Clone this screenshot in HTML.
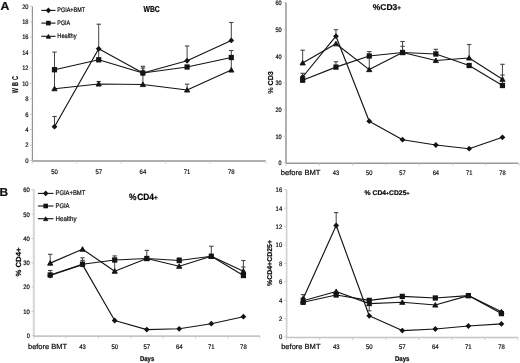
<!DOCTYPE html>
<html><head><meta charset="utf-8"><style>
html,body{margin:0;padding:0;background:#fff;}
body{width:520px;height:363px;overflow:hidden;}
svg{display:block;filter:blur(0.25px);}
text{font-family:"Liberation Sans",sans-serif;text-rendering:geometricPrecision;stroke:#222;stroke-width:0.22px;}
</style></head><body>
<svg width="520" height="363" viewBox="0 0 520 363">
<rect width="520" height="363" fill="#fff"/>
<line x1="32.40" y1="6.50" x2="32.40" y2="161.00" stroke="#939393" stroke-width="1.2"/>
<line x1="32.40" y1="161.00" x2="265.70" y2="161.00" stroke="#b0b0b0" stroke-width="1.8"/>
<line x1="29.90" y1="160.50" x2="32.40" y2="160.50" stroke="#c4c4c4" stroke-width="0.8"/>
<line x1="29.90" y1="145.08" x2="32.40" y2="145.08" stroke="#c4c4c4" stroke-width="0.8"/>
<line x1="29.90" y1="129.66" x2="32.40" y2="129.66" stroke="#c4c4c4" stroke-width="0.8"/>
<line x1="29.90" y1="114.24" x2="32.40" y2="114.24" stroke="#c4c4c4" stroke-width="0.8"/>
<line x1="29.90" y1="98.82" x2="32.40" y2="98.82" stroke="#c4c4c4" stroke-width="0.8"/>
<line x1="29.90" y1="83.40" x2="32.40" y2="83.40" stroke="#c4c4c4" stroke-width="0.8"/>
<line x1="29.90" y1="67.98" x2="32.40" y2="67.98" stroke="#c4c4c4" stroke-width="0.8"/>
<line x1="29.90" y1="52.56" x2="32.40" y2="52.56" stroke="#c4c4c4" stroke-width="0.8"/>
<line x1="29.90" y1="37.14" x2="32.40" y2="37.14" stroke="#c4c4c4" stroke-width="0.8"/>
<line x1="29.90" y1="21.72" x2="32.40" y2="21.72" stroke="#c4c4c4" stroke-width="0.8"/>
<line x1="29.90" y1="6.30" x2="32.40" y2="6.30" stroke="#c4c4c4" stroke-width="0.8"/>
<line x1="32.40" y1="161.00" x2="32.40" y2="163.50" stroke="#c4c4c4" stroke-width="0.8"/>
<line x1="76.80" y1="161.00" x2="76.80" y2="163.50" stroke="#c4c4c4" stroke-width="0.8"/>
<line x1="121.20" y1="161.00" x2="121.20" y2="163.50" stroke="#c4c4c4" stroke-width="0.8"/>
<line x1="165.60" y1="161.00" x2="165.60" y2="163.50" stroke="#c4c4c4" stroke-width="0.8"/>
<line x1="210.00" y1="161.00" x2="210.00" y2="163.50" stroke="#c4c4c4" stroke-width="0.8"/>
<line x1="265.70" y1="161.00" x2="265.70" y2="163.50" stroke="#c4c4c4" stroke-width="0.8"/>
<text x="28.50" y="162.85" font-size="6.6" text-anchor="end" textLength="3.3" lengthAdjust="spacingAndGlyphs">0</text>
<text x="28.50" y="147.43" font-size="6.6" text-anchor="end" textLength="3.3" lengthAdjust="spacingAndGlyphs">2</text>
<text x="28.50" y="132.01" font-size="6.6" text-anchor="end" textLength="3.3" lengthAdjust="spacingAndGlyphs">4</text>
<text x="28.50" y="116.59" font-size="6.6" text-anchor="end" textLength="3.3" lengthAdjust="spacingAndGlyphs">6</text>
<text x="28.50" y="101.17" font-size="6.6" text-anchor="end" textLength="3.3" lengthAdjust="spacingAndGlyphs">8</text>
<text x="28.50" y="85.75" font-size="6.6" text-anchor="end" textLength="6.3" lengthAdjust="spacingAndGlyphs">10</text>
<text x="28.50" y="70.33" font-size="6.6" text-anchor="end" textLength="6.3" lengthAdjust="spacingAndGlyphs">12</text>
<text x="28.50" y="54.91" font-size="6.6" text-anchor="end" textLength="6.3" lengthAdjust="spacingAndGlyphs">14</text>
<text x="28.50" y="39.49" font-size="6.6" text-anchor="end" textLength="6.3" lengthAdjust="spacingAndGlyphs">16</text>
<text x="28.50" y="24.07" font-size="6.6" text-anchor="end" textLength="6.3" lengthAdjust="spacingAndGlyphs">18</text>
<text x="28.50" y="8.65" font-size="6.6" text-anchor="end" textLength="6.3" lengthAdjust="spacingAndGlyphs">20</text>
<text x="54.50" y="173.50" font-size="6.6" text-anchor="middle" textLength="6.6" lengthAdjust="spacingAndGlyphs">50</text>
<text x="98.70" y="173.50" font-size="6.6" text-anchor="middle" textLength="6.6" lengthAdjust="spacingAndGlyphs">57</text>
<text x="142.90" y="173.50" font-size="6.6" text-anchor="middle" textLength="6.6" lengthAdjust="spacingAndGlyphs">64</text>
<text x="187.10" y="173.50" font-size="6.6" text-anchor="middle" textLength="6.6" lengthAdjust="spacingAndGlyphs">71</text>
<text x="231.30" y="173.50" font-size="6.6" text-anchor="middle" textLength="6.6" lengthAdjust="spacingAndGlyphs">78</text>
<text x="143.50" y="12.20" font-size="8.6" font-weight="bold" textLength="16.2" lengthAdjust="spacingAndGlyphs">WBC</text>
<text x="0" y="0" font-size="8.4" font-weight="bold" textLength="26.2" lengthAdjust="spacing" transform="translate(17.8 93.2) rotate(-90) scale(0.66 1)">WBC</text>
<text x="0.50" y="9.80" font-size="11.6" font-weight="bold" textLength="8.9" lengthAdjust="spacingAndGlyphs" fill="#111">A</text>
<line x1="41.30" y1="10.40" x2="55.50" y2="10.40" stroke="#141414" stroke-width="1.1"/>
<path d="M48.40 7.60L51.20 10.40L48.40 13.20L45.60 10.40Z" fill="#141414"/>
<text x="57.30" y="12.38" font-size="6.6" textLength="27.8" lengthAdjust="spacingAndGlyphs">PGIA+BMT</text>
<line x1="41.30" y1="23.10" x2="55.50" y2="23.10" stroke="#141414" stroke-width="1.1"/>
<rect x="46.10" y="20.80" width="4.6" height="4.6" fill="#141414"/>
<text x="57.30" y="25.08" font-size="6.6" textLength="12.9" lengthAdjust="spacingAndGlyphs">PGIA</text>
<line x1="41.30" y1="36.30" x2="55.50" y2="36.30" stroke="#141414" stroke-width="1.1"/>
<path d="M48.40 34.41L50.50 38.21L46.30 38.21Z" fill="#141414" stroke="#141414" stroke-width="0.9" stroke-linejoin="round"/>
<text x="57.30" y="38.28" font-size="6.6" textLength="19.3" lengthAdjust="spacingAndGlyphs">Healthy</text>
<line x1="54.50" y1="69.70" x2="54.50" y2="52.10" stroke="#444" stroke-width="1.0"/>
<line x1="52.30" y1="52.10" x2="56.70" y2="52.10" stroke="#444" stroke-width="1.1"/>
<line x1="54.50" y1="126.70" x2="54.50" y2="116.50" stroke="#444" stroke-width="1.0"/>
<line x1="52.30" y1="116.50" x2="56.70" y2="116.50" stroke="#444" stroke-width="1.1"/>
<line x1="98.70" y1="48.80" x2="98.70" y2="24.20" stroke="#444" stroke-width="1.0"/>
<line x1="96.50" y1="24.20" x2="100.90" y2="24.20" stroke="#444" stroke-width="1.1"/>
<line x1="98.70" y1="84.00" x2="98.70" y2="81.50" stroke="#444" stroke-width="1.0"/>
<line x1="96.50" y1="81.50" x2="100.90" y2="81.50" stroke="#444" stroke-width="1.1"/>
<line x1="142.90" y1="73.00" x2="142.90" y2="66.30" stroke="#444" stroke-width="1.0"/>
<line x1="140.70" y1="66.30" x2="145.10" y2="66.30" stroke="#444" stroke-width="1.1"/>
<line x1="142.90" y1="73.00" x2="142.90" y2="68.00" stroke="#444" stroke-width="1.0"/>
<line x1="140.70" y1="68.00" x2="145.10" y2="68.00" stroke="#444" stroke-width="1.1"/>
<line x1="187.10" y1="60.75" x2="187.10" y2="46.00" stroke="#444" stroke-width="1.0"/>
<line x1="184.90" y1="46.00" x2="189.30" y2="46.00" stroke="#444" stroke-width="1.1"/>
<line x1="187.10" y1="90.00" x2="187.10" y2="84.20" stroke="#444" stroke-width="1.0"/>
<line x1="184.90" y1="84.20" x2="189.30" y2="84.20" stroke="#444" stroke-width="1.1"/>
<line x1="231.30" y1="40.40" x2="231.30" y2="22.50" stroke="#444" stroke-width="1.0"/>
<line x1="229.10" y1="22.50" x2="233.50" y2="22.50" stroke="#444" stroke-width="1.1"/>
<line x1="231.30" y1="57.50" x2="231.30" y2="50.50" stroke="#444" stroke-width="1.0"/>
<line x1="229.10" y1="50.50" x2="233.50" y2="50.50" stroke="#444" stroke-width="1.1"/>
<line x1="54.50" y1="69.70" x2="54.50" y2="88.00" stroke="#444" stroke-width="1.0"/>
<line x1="231.30" y1="57.50" x2="231.30" y2="70.00" stroke="#444" stroke-width="1.0"/>
<line x1="98.70" y1="48.80" x2="98.70" y2="59.80" stroke="#444" stroke-width="1.0"/>
<line x1="142.90" y1="73.00" x2="142.90" y2="84.50" stroke="#444" stroke-width="1.0"/>
<polyline points="54.50,69.70 98.70,59.80 142.90,73.00 187.10,67.00 231.30,57.50" fill="none" stroke="#141414" stroke-width="1.15" stroke-linejoin="round"/>
<rect x="51.90" y="67.05" width="5.2" height="5.3" fill="#141414"/>
<rect x="96.10" y="57.15" width="5.2" height="5.3" fill="#141414"/>
<rect x="140.30" y="70.35" width="5.2" height="5.3" fill="#141414"/>
<rect x="184.50" y="64.35" width="5.2" height="5.3" fill="#141414"/>
<rect x="228.70" y="54.85" width="5.2" height="5.3" fill="#141414"/>
<polyline points="54.50,88.70 98.70,84.00 142.90,84.50 187.10,90.00 231.30,70.00" fill="none" stroke="#141414" stroke-width="1.15" stroke-linejoin="round"/>
<path d="M54.50 86.17L57.10 90.77L51.90 90.77Z" fill="#141414" stroke="#141414" stroke-width="0.9" stroke-linejoin="round"/>
<path d="M98.70 81.47L101.30 86.07L96.10 86.07Z" fill="#141414" stroke="#141414" stroke-width="0.9" stroke-linejoin="round"/>
<path d="M142.90 81.97L145.50 86.57L140.30 86.57Z" fill="#141414" stroke="#141414" stroke-width="0.9" stroke-linejoin="round"/>
<path d="M187.10 87.47L189.70 92.07L184.50 92.07Z" fill="#141414" stroke="#141414" stroke-width="0.9" stroke-linejoin="round"/>
<path d="M231.30 67.47L233.90 72.07L228.70 72.07Z" fill="#141414" stroke="#141414" stroke-width="0.9" stroke-linejoin="round"/>
<polyline points="54.50,126.70 98.70,48.80 142.90,73.00 187.10,60.75 231.30,40.40" fill="none" stroke="#141414" stroke-width="1.15" stroke-linejoin="round"/>
<path d="M54.50 123.80L57.40 126.70L54.50 129.60L51.60 126.70Z" fill="#141414"/>
<path d="M98.70 45.90L101.60 48.80L98.70 51.70L95.80 48.80Z" fill="#141414"/>
<path d="M142.90 70.10L145.80 73.00L142.90 75.90L140.00 73.00Z" fill="#141414"/>
<path d="M187.10 57.85L190.00 60.75L187.10 63.65L184.20 60.75Z" fill="#141414"/>
<path d="M231.30 37.50L234.20 40.40L231.30 43.30L228.40 40.40Z" fill="#141414"/>
<line x1="286.00" y1="2.50" x2="286.00" y2="163.30" stroke="#a4a4a4" stroke-width="1.7"/>
<line x1="286.00" y1="163.30" x2="518.60" y2="163.30" stroke="#9a9a9a" stroke-width="1.5"/>
<line x1="283.50" y1="163.00" x2="286.00" y2="163.00" stroke="#c4c4c4" stroke-width="0.8"/>
<line x1="283.50" y1="136.30" x2="286.00" y2="136.30" stroke="#c4c4c4" stroke-width="0.8"/>
<line x1="283.50" y1="109.60" x2="286.00" y2="109.60" stroke="#c4c4c4" stroke-width="0.8"/>
<line x1="283.50" y1="82.90" x2="286.00" y2="82.90" stroke="#c4c4c4" stroke-width="0.8"/>
<line x1="283.50" y1="56.20" x2="286.00" y2="56.20" stroke="#c4c4c4" stroke-width="0.8"/>
<line x1="283.50" y1="29.50" x2="286.00" y2="29.50" stroke="#c4c4c4" stroke-width="0.8"/>
<line x1="283.50" y1="2.80" x2="286.00" y2="2.80" stroke="#c4c4c4" stroke-width="0.8"/>
<line x1="286.00" y1="163.30" x2="286.00" y2="165.80" stroke="#c4c4c4" stroke-width="0.8"/>
<line x1="319.30" y1="163.30" x2="319.30" y2="165.80" stroke="#c4c4c4" stroke-width="0.8"/>
<line x1="352.60" y1="163.30" x2="352.60" y2="165.80" stroke="#c4c4c4" stroke-width="0.8"/>
<line x1="385.90" y1="163.30" x2="385.90" y2="165.80" stroke="#c4c4c4" stroke-width="0.8"/>
<line x1="419.20" y1="163.30" x2="419.20" y2="165.80" stroke="#c4c4c4" stroke-width="0.8"/>
<line x1="452.50" y1="163.30" x2="452.50" y2="165.80" stroke="#c4c4c4" stroke-width="0.8"/>
<line x1="485.80" y1="163.30" x2="485.80" y2="165.80" stroke="#c4c4c4" stroke-width="0.8"/>
<line x1="519.10" y1="163.30" x2="519.10" y2="165.80" stroke="#c4c4c4" stroke-width="0.8"/>
<text x="281.60" y="165.30" font-size="6.4" text-anchor="end" textLength="3.0" lengthAdjust="spacingAndGlyphs">0</text>
<text x="281.60" y="138.60" font-size="6.4" text-anchor="end" textLength="6.2" lengthAdjust="spacingAndGlyphs">10</text>
<text x="281.60" y="111.90" font-size="6.4" text-anchor="end" textLength="6.2" lengthAdjust="spacingAndGlyphs">20</text>
<text x="281.60" y="85.20" font-size="6.4" text-anchor="end" textLength="6.2" lengthAdjust="spacingAndGlyphs">30</text>
<text x="281.60" y="58.50" font-size="6.4" text-anchor="end" textLength="6.2" lengthAdjust="spacingAndGlyphs">40</text>
<text x="281.60" y="31.80" font-size="6.4" text-anchor="end" textLength="6.2" lengthAdjust="spacingAndGlyphs">50</text>
<text x="281.60" y="5.10" font-size="6.4" text-anchor="end" textLength="6.2" lengthAdjust="spacingAndGlyphs">60</text>
<text x="280.80" y="175.00" font-size="7.4" textLength="39.6" lengthAdjust="spacingAndGlyphs">before BMT</text>
<text x="335.95" y="174.60" font-size="6.6" text-anchor="middle" textLength="6.4" lengthAdjust="spacingAndGlyphs">43</text>
<text x="369.25" y="174.60" font-size="6.6" text-anchor="middle" textLength="6.4" lengthAdjust="spacingAndGlyphs">50</text>
<text x="402.55" y="174.60" font-size="6.6" text-anchor="middle" textLength="6.4" lengthAdjust="spacingAndGlyphs">57</text>
<text x="435.85" y="174.60" font-size="6.6" text-anchor="middle" textLength="6.4" lengthAdjust="spacingAndGlyphs">64</text>
<text x="469.15" y="174.60" font-size="6.6" text-anchor="middle" textLength="6.4" lengthAdjust="spacingAndGlyphs">71</text>
<text x="502.45" y="174.60" font-size="6.6" text-anchor="middle" textLength="6.4" lengthAdjust="spacingAndGlyphs">78</text>
<text x="372.70" y="10.20" font-size="8.4" font-weight="bold" textLength="28.3" lengthAdjust="spacingAndGlyphs">%CD3<tspan font-size="75%">+</tspan></text>
<text x="273.4" y="82.5" font-size="7.2" text-anchor="middle" textLength="22.6" lengthAdjust="spacingAndGlyphs" transform="rotate(-90 273.4 82.5)">% <tspan font-weight="bold">CD3</tspan></text>
<line x1="302.65" y1="62.90" x2="302.65" y2="50.20" stroke="#444" stroke-width="1.0"/>
<line x1="300.45" y1="50.20" x2="304.85" y2="50.20" stroke="#444" stroke-width="1.1"/>
<line x1="302.65" y1="77.00" x2="302.65" y2="73.30" stroke="#444" stroke-width="1.0"/>
<line x1="300.45" y1="73.30" x2="304.85" y2="73.30" stroke="#444" stroke-width="1.1"/>
<line x1="335.95" y1="36.20" x2="335.95" y2="29.70" stroke="#444" stroke-width="1.0"/>
<line x1="333.75" y1="29.70" x2="338.15" y2="29.70" stroke="#444" stroke-width="1.1"/>
<line x1="335.95" y1="67.10" x2="335.95" y2="61.80" stroke="#444" stroke-width="1.0"/>
<line x1="333.75" y1="61.80" x2="338.15" y2="61.80" stroke="#444" stroke-width="1.1"/>
<line x1="369.25" y1="56.00" x2="369.25" y2="51.60" stroke="#444" stroke-width="1.0"/>
<line x1="367.05" y1="51.60" x2="371.45" y2="51.60" stroke="#444" stroke-width="1.1"/>
<line x1="402.55" y1="52.50" x2="402.55" y2="41.50" stroke="#444" stroke-width="1.0"/>
<line x1="400.35" y1="41.50" x2="404.75" y2="41.50" stroke="#444" stroke-width="1.1"/>
<line x1="402.55" y1="52.50" x2="402.55" y2="46.30" stroke="#444" stroke-width="1.0"/>
<line x1="400.35" y1="46.30" x2="404.75" y2="46.30" stroke="#444" stroke-width="1.1"/>
<line x1="435.85" y1="54.00" x2="435.85" y2="49.30" stroke="#444" stroke-width="1.0"/>
<line x1="433.65" y1="49.30" x2="438.05" y2="49.30" stroke="#444" stroke-width="1.1"/>
<line x1="469.15" y1="58.00" x2="469.15" y2="44.50" stroke="#444" stroke-width="1.0"/>
<line x1="466.95" y1="44.50" x2="471.35" y2="44.50" stroke="#444" stroke-width="1.1"/>
<line x1="502.45" y1="79.20" x2="502.45" y2="64.30" stroke="#444" stroke-width="1.0"/>
<line x1="500.25" y1="64.30" x2="504.65" y2="64.30" stroke="#444" stroke-width="1.1"/>
<line x1="502.45" y1="85.50" x2="502.45" y2="75.00" stroke="#444" stroke-width="1.0"/>
<line x1="500.25" y1="75.00" x2="504.65" y2="75.00" stroke="#444" stroke-width="1.1"/>
<line x1="369.25" y1="56.00" x2="369.25" y2="69.60" stroke="#444" stroke-width="1.0"/>
<polyline points="302.65,80.20 335.95,67.10 369.25,56.00 402.55,52.50 435.85,54.00 469.15,65.50 502.45,85.50" fill="none" stroke="#141414" stroke-width="1.15" stroke-linejoin="round"/>
<rect x="300.05" y="77.55" width="5.2" height="5.3" fill="#141414"/>
<rect x="333.35" y="64.45" width="5.2" height="5.3" fill="#141414"/>
<rect x="366.65" y="53.35" width="5.2" height="5.3" fill="#141414"/>
<rect x="399.95" y="49.85" width="5.2" height="5.3" fill="#141414"/>
<rect x="433.25" y="51.35" width="5.2" height="5.3" fill="#141414"/>
<rect x="466.55" y="62.85" width="5.2" height="5.3" fill="#141414"/>
<rect x="499.85" y="82.85" width="5.2" height="5.3" fill="#141414"/>
<polyline points="302.65,62.90 335.95,43.80 369.25,69.60 402.55,52.50 435.85,60.50 469.15,58.00 502.45,79.25" fill="none" stroke="#141414" stroke-width="1.15" stroke-linejoin="round"/>
<path d="M302.65 60.37L305.25 64.97L300.05 64.97Z" fill="#141414" stroke="#141414" stroke-width="0.9" stroke-linejoin="round"/>
<path d="M335.95 41.27L338.55 45.87L333.35 45.87Z" fill="#141414" stroke="#141414" stroke-width="0.9" stroke-linejoin="round"/>
<path d="M369.25 67.07L371.85 71.67L366.65 71.67Z" fill="#141414" stroke="#141414" stroke-width="0.9" stroke-linejoin="round"/>
<path d="M402.55 49.97L405.15 54.57L399.95 54.57Z" fill="#141414" stroke="#141414" stroke-width="0.9" stroke-linejoin="round"/>
<path d="M435.85 57.97L438.45 62.57L433.25 62.57Z" fill="#141414" stroke="#141414" stroke-width="0.9" stroke-linejoin="round"/>
<path d="M469.15 55.47L471.75 60.07L466.55 60.07Z" fill="#141414" stroke="#141414" stroke-width="0.9" stroke-linejoin="round"/>
<path d="M502.45 76.72L505.05 81.32L499.85 81.32Z" fill="#141414" stroke="#141414" stroke-width="0.9" stroke-linejoin="round"/>
<polyline points="302.65,77.00 335.95,36.20 369.25,121.20 402.55,139.70 435.85,145.00 469.15,148.70 502.45,137.30" fill="none" stroke="#141414" stroke-width="1.15" stroke-linejoin="round"/>
<path d="M302.65 74.10L305.55 77.00L302.65 79.90L299.75 77.00Z" fill="#141414"/>
<path d="M335.95 33.30L338.85 36.20L335.95 39.10L333.05 36.20Z" fill="#141414"/>
<path d="M369.25 118.30L372.15 121.20L369.25 124.10L366.35 121.20Z" fill="#141414"/>
<path d="M402.55 136.80L405.45 139.70L402.55 142.60L399.65 139.70Z" fill="#141414"/>
<path d="M435.85 142.10L438.75 145.00L435.85 147.90L432.95 145.00Z" fill="#141414"/>
<path d="M469.15 145.80L472.05 148.70L469.15 151.60L466.25 148.70Z" fill="#141414"/>
<path d="M502.45 134.40L505.35 137.30L502.45 140.20L499.55 137.30Z" fill="#141414"/>
<line x1="33.80" y1="189.30" x2="33.80" y2="336.10" stroke="#d6d6d6" stroke-width="2.0"/>
<line x1="33.80" y1="336.10" x2="259.80" y2="336.10" stroke="#c6c6c6" stroke-width="1.6"/>
<line x1="31.30" y1="335.70" x2="33.80" y2="335.70" stroke="#c4c4c4" stroke-width="0.8"/>
<line x1="31.30" y1="311.40" x2="33.80" y2="311.40" stroke="#c4c4c4" stroke-width="0.8"/>
<line x1="31.30" y1="287.10" x2="33.80" y2="287.10" stroke="#c4c4c4" stroke-width="0.8"/>
<line x1="31.30" y1="262.80" x2="33.80" y2="262.80" stroke="#c4c4c4" stroke-width="0.8"/>
<line x1="31.30" y1="238.50" x2="33.80" y2="238.50" stroke="#c4c4c4" stroke-width="0.8"/>
<line x1="31.30" y1="214.20" x2="33.80" y2="214.20" stroke="#c4c4c4" stroke-width="0.8"/>
<line x1="31.30" y1="189.90" x2="33.80" y2="189.90" stroke="#c4c4c4" stroke-width="0.8"/>
<line x1="33.80" y1="336.10" x2="33.80" y2="338.60" stroke="#c4c4c4" stroke-width="0.8"/>
<line x1="66.15" y1="336.10" x2="66.15" y2="338.60" stroke="#c4c4c4" stroke-width="0.8"/>
<line x1="98.50" y1="336.10" x2="98.50" y2="338.60" stroke="#c4c4c4" stroke-width="0.8"/>
<line x1="130.85" y1="336.10" x2="130.85" y2="338.60" stroke="#c4c4c4" stroke-width="0.8"/>
<line x1="163.20" y1="336.10" x2="163.20" y2="338.60" stroke="#c4c4c4" stroke-width="0.8"/>
<line x1="195.55" y1="336.10" x2="195.55" y2="338.60" stroke="#c4c4c4" stroke-width="0.8"/>
<line x1="227.90" y1="336.10" x2="227.90" y2="338.60" stroke="#c4c4c4" stroke-width="0.8"/>
<line x1="259.80" y1="336.10" x2="259.80" y2="338.60" stroke="#c4c4c4" stroke-width="0.8"/>
<text x="29.80" y="338.00" font-size="6.4" text-anchor="end" textLength="3.1" lengthAdjust="spacingAndGlyphs">0</text>
<text x="29.80" y="313.70" font-size="6.4" text-anchor="end" textLength="6.5" lengthAdjust="spacingAndGlyphs">10</text>
<text x="29.80" y="289.40" font-size="6.4" text-anchor="end" textLength="6.5" lengthAdjust="spacingAndGlyphs">20</text>
<text x="29.80" y="265.10" font-size="6.4" text-anchor="end" textLength="6.5" lengthAdjust="spacingAndGlyphs">30</text>
<text x="29.80" y="240.80" font-size="6.4" text-anchor="end" textLength="6.5" lengthAdjust="spacingAndGlyphs">40</text>
<text x="29.80" y="216.50" font-size="6.4" text-anchor="end" textLength="6.5" lengthAdjust="spacingAndGlyphs">50</text>
<text x="29.80" y="192.20" font-size="6.4" text-anchor="end" textLength="6.5" lengthAdjust="spacingAndGlyphs">60</text>
<text x="28.00" y="348.70" font-size="7.4" textLength="39.0" lengthAdjust="spacingAndGlyphs">before BMT</text>
<text x="82.50" y="348.80" font-size="6.6" text-anchor="middle" textLength="6.6" lengthAdjust="spacingAndGlyphs">43</text>
<text x="114.70" y="348.80" font-size="6.6" text-anchor="middle" textLength="6.6" lengthAdjust="spacingAndGlyphs">50</text>
<text x="146.80" y="348.80" font-size="6.6" text-anchor="middle" textLength="6.6" lengthAdjust="spacingAndGlyphs">57</text>
<text x="179.20" y="348.80" font-size="6.6" text-anchor="middle" textLength="6.6" lengthAdjust="spacingAndGlyphs">64</text>
<text x="211.30" y="348.80" font-size="6.6" text-anchor="middle" textLength="6.6" lengthAdjust="spacingAndGlyphs">71</text>
<text x="243.40" y="348.80" font-size="6.6" text-anchor="middle" textLength="6.6" lengthAdjust="spacingAndGlyphs">78</text>
<text x="140.00" y="360.60" font-size="7.0" font-weight="bold" textLength="14.2" lengthAdjust="spacingAndGlyphs">Days</text>
<text x="129.00" y="199.60" font-size="9.2" font-weight="bold" textLength="28.7" lengthAdjust="spacingAndGlyphs">%<tspan dx="0.8">CD4</tspan><tspan font-size="75%">+</tspan></text>
<text x="20.80" y="262.00" font-size="7.4" text-anchor="middle" font-weight="bold" textLength="29.0" lengthAdjust="spacingAndGlyphs" transform="rotate(-90 20.80 262.00)">% CD4+</text>
<text x="-0.60" y="195.60" font-size="11.5" font-weight="bold" textLength="8.6" lengthAdjust="spacingAndGlyphs" fill="#111">B</text>
<line x1="37.90" y1="193.40" x2="53.50" y2="193.40" stroke="#141414" stroke-width="1.1"/>
<path d="M45.70 190.60L48.50 193.40L45.70 196.20L42.90 193.40Z" fill="#141414"/>
<text x="55.50" y="195.45" font-size="6.8" textLength="29.8" lengthAdjust="spacingAndGlyphs">PGIA+BMT</text>
<line x1="37.90" y1="206.00" x2="53.50" y2="206.00" stroke="#141414" stroke-width="1.1"/>
<rect x="43.40" y="203.70" width="4.6" height="4.6" fill="#141414"/>
<text x="55.50" y="208.05" font-size="6.8" textLength="14.0" lengthAdjust="spacingAndGlyphs">PGIA</text>
<line x1="37.90" y1="218.70" x2="53.50" y2="218.70" stroke="#141414" stroke-width="1.1"/>
<path d="M45.70 216.81L47.80 220.61L43.60 220.61Z" fill="#141414" stroke="#141414" stroke-width="0.9" stroke-linejoin="round"/>
<text x="55.50" y="220.75" font-size="6.8" textLength="21.0" lengthAdjust="spacingAndGlyphs">Healthy</text>
<line x1="50.20" y1="263.10" x2="50.20" y2="254.30" stroke="#444" stroke-width="1.0"/>
<line x1="48.00" y1="254.30" x2="52.40" y2="254.30" stroke="#444" stroke-width="1.1"/>
<line x1="50.20" y1="275.00" x2="50.20" y2="270.50" stroke="#444" stroke-width="1.0"/>
<line x1="48.00" y1="270.50" x2="52.40" y2="270.50" stroke="#444" stroke-width="1.1"/>
<line x1="82.50" y1="264.20" x2="82.50" y2="257.80" stroke="#444" stroke-width="1.0"/>
<line x1="80.30" y1="257.80" x2="84.70" y2="257.80" stroke="#444" stroke-width="1.1"/>
<line x1="82.50" y1="264.20" x2="82.50" y2="260.40" stroke="#444" stroke-width="1.0"/>
<line x1="80.30" y1="260.40" x2="84.70" y2="260.40" stroke="#444" stroke-width="1.1"/>
<line x1="114.70" y1="260.00" x2="114.70" y2="255.90" stroke="#444" stroke-width="1.0"/>
<line x1="112.50" y1="255.90" x2="116.90" y2="255.90" stroke="#444" stroke-width="1.1"/>
<line x1="146.80" y1="258.50" x2="146.80" y2="250.40" stroke="#444" stroke-width="1.0"/>
<line x1="144.60" y1="250.40" x2="149.00" y2="250.40" stroke="#444" stroke-width="1.1"/>
<line x1="179.20" y1="260.50" x2="179.20" y2="258.00" stroke="#444" stroke-width="1.0"/>
<line x1="177.00" y1="258.00" x2="181.40" y2="258.00" stroke="#444" stroke-width="1.1"/>
<line x1="211.30" y1="256.25" x2="211.30" y2="246.25" stroke="#444" stroke-width="1.0"/>
<line x1="209.10" y1="246.25" x2="213.50" y2="246.25" stroke="#444" stroke-width="1.1"/>
<line x1="243.40" y1="271.25" x2="243.40" y2="260.50" stroke="#444" stroke-width="1.0"/>
<line x1="241.20" y1="260.50" x2="245.60" y2="260.50" stroke="#444" stroke-width="1.1"/>
<line x1="243.40" y1="275.50" x2="243.40" y2="267.00" stroke="#444" stroke-width="1.0"/>
<line x1="241.20" y1="267.00" x2="245.60" y2="267.00" stroke="#444" stroke-width="1.1"/>
<line x1="114.70" y1="260.00" x2="114.70" y2="271.20" stroke="#444" stroke-width="1.0"/>
<polyline points="50.20,275.00 82.50,264.20 114.70,260.00 146.80,258.50 179.20,260.50 211.30,256.25 243.40,275.50" fill="none" stroke="#141414" stroke-width="1.15" stroke-linejoin="round"/>
<rect x="47.60" y="272.35" width="5.2" height="5.3" fill="#141414"/>
<rect x="79.90" y="261.55" width="5.2" height="5.3" fill="#141414"/>
<rect x="112.10" y="257.35" width="5.2" height="5.3" fill="#141414"/>
<rect x="144.20" y="255.85" width="5.2" height="5.3" fill="#141414"/>
<rect x="176.60" y="257.85" width="5.2" height="5.3" fill="#141414"/>
<rect x="208.70" y="253.60" width="5.2" height="5.3" fill="#141414"/>
<rect x="240.80" y="272.85" width="5.2" height="5.3" fill="#141414"/>
<polyline points="50.20,263.10 82.50,249.20 114.70,271.20 146.80,258.50 179.20,266.25 211.30,256.25 243.40,271.25" fill="none" stroke="#141414" stroke-width="1.15" stroke-linejoin="round"/>
<path d="M50.20 260.57L52.80 265.17L47.60 265.17Z" fill="#141414" stroke="#141414" stroke-width="0.9" stroke-linejoin="round"/>
<path d="M82.50 246.67L85.10 251.27L79.90 251.27Z" fill="#141414" stroke="#141414" stroke-width="0.9" stroke-linejoin="round"/>
<path d="M114.70 268.67L117.30 273.27L112.10 273.27Z" fill="#141414" stroke="#141414" stroke-width="0.9" stroke-linejoin="round"/>
<path d="M146.80 255.97L149.40 260.57L144.20 260.57Z" fill="#141414" stroke="#141414" stroke-width="0.9" stroke-linejoin="round"/>
<path d="M179.20 263.72L181.80 268.32L176.60 268.32Z" fill="#141414" stroke="#141414" stroke-width="0.9" stroke-linejoin="round"/>
<path d="M211.30 253.72L213.90 258.32L208.70 258.32Z" fill="#141414" stroke="#141414" stroke-width="0.9" stroke-linejoin="round"/>
<path d="M243.40 268.72L246.00 273.32L240.80 273.32Z" fill="#141414" stroke="#141414" stroke-width="0.9" stroke-linejoin="round"/>
<polyline points="50.20,275.50 82.50,264.60 114.70,320.50 146.80,329.60 179.20,328.80 211.30,323.70 243.40,316.70" fill="none" stroke="#141414" stroke-width="1.15" stroke-linejoin="round"/>
<path d="M50.20 272.60L53.10 275.50L50.20 278.40L47.30 275.50Z" fill="#141414"/>
<path d="M82.50 261.70L85.40 264.60L82.50 267.50L79.60 264.60Z" fill="#141414"/>
<path d="M114.70 317.60L117.60 320.50L114.70 323.40L111.80 320.50Z" fill="#141414"/>
<path d="M146.80 326.70L149.70 329.60L146.80 332.50L143.90 329.60Z" fill="#141414"/>
<path d="M179.20 325.90L182.10 328.80L179.20 331.70L176.30 328.80Z" fill="#141414"/>
<path d="M211.30 320.80L214.20 323.70L211.30 326.60L208.40 323.70Z" fill="#141414"/>
<path d="M243.40 313.80L246.30 316.70L243.40 319.60L240.50 316.70Z" fill="#141414"/>
<line x1="286.60" y1="189.50" x2="286.60" y2="337.50" stroke="#d0d0d0" stroke-width="1.6"/>
<line x1="286.60" y1="337.50" x2="518.00" y2="337.50" stroke="#c4c4c4" stroke-width="1.5"/>
<line x1="284.10" y1="337.00" x2="286.60" y2="337.00" stroke="#c4c4c4" stroke-width="0.8"/>
<line x1="284.10" y1="318.60" x2="286.60" y2="318.60" stroke="#c4c4c4" stroke-width="0.8"/>
<line x1="284.10" y1="300.20" x2="286.60" y2="300.20" stroke="#c4c4c4" stroke-width="0.8"/>
<line x1="284.10" y1="281.80" x2="286.60" y2="281.80" stroke="#c4c4c4" stroke-width="0.8"/>
<line x1="284.10" y1="263.40" x2="286.60" y2="263.40" stroke="#c4c4c4" stroke-width="0.8"/>
<line x1="284.10" y1="245.00" x2="286.60" y2="245.00" stroke="#c4c4c4" stroke-width="0.8"/>
<line x1="284.10" y1="226.60" x2="286.60" y2="226.60" stroke="#c4c4c4" stroke-width="0.8"/>
<line x1="284.10" y1="208.20" x2="286.60" y2="208.20" stroke="#c4c4c4" stroke-width="0.8"/>
<line x1="284.10" y1="189.80" x2="286.60" y2="189.80" stroke="#c4c4c4" stroke-width="0.8"/>
<line x1="286.60" y1="337.50" x2="286.60" y2="340.00" stroke="#c4c4c4" stroke-width="0.8"/>
<line x1="319.65" y1="337.50" x2="319.65" y2="340.00" stroke="#c4c4c4" stroke-width="0.8"/>
<line x1="352.70" y1="337.50" x2="352.70" y2="340.00" stroke="#c4c4c4" stroke-width="0.8"/>
<line x1="385.75" y1="337.50" x2="385.75" y2="340.00" stroke="#c4c4c4" stroke-width="0.8"/>
<line x1="418.80" y1="337.50" x2="418.80" y2="340.00" stroke="#c4c4c4" stroke-width="0.8"/>
<line x1="451.85" y1="337.50" x2="451.85" y2="340.00" stroke="#c4c4c4" stroke-width="0.8"/>
<line x1="484.90" y1="337.50" x2="484.90" y2="340.00" stroke="#c4c4c4" stroke-width="0.8"/>
<line x1="517.95" y1="337.50" x2="517.95" y2="340.00" stroke="#c4c4c4" stroke-width="0.8"/>
<text x="282.20" y="339.40" font-size="6.6" text-anchor="end" textLength="3.3" lengthAdjust="spacingAndGlyphs">0</text>
<text x="282.20" y="321.00" font-size="6.6" text-anchor="end" textLength="3.3" lengthAdjust="spacingAndGlyphs">2</text>
<text x="282.20" y="302.60" font-size="6.6" text-anchor="end" textLength="3.3" lengthAdjust="spacingAndGlyphs">4</text>
<text x="282.20" y="284.20" font-size="6.6" text-anchor="end" textLength="3.3" lengthAdjust="spacingAndGlyphs">6</text>
<text x="282.20" y="265.80" font-size="6.6" text-anchor="end" textLength="3.3" lengthAdjust="spacingAndGlyphs">8</text>
<text x="282.20" y="247.40" font-size="6.6" text-anchor="end" textLength="6.6" lengthAdjust="spacingAndGlyphs">10</text>
<text x="282.20" y="229.00" font-size="6.6" text-anchor="end" textLength="6.6" lengthAdjust="spacingAndGlyphs">12</text>
<text x="282.20" y="210.60" font-size="6.6" text-anchor="end" textLength="6.6" lengthAdjust="spacingAndGlyphs">14</text>
<text x="282.20" y="192.20" font-size="6.6" text-anchor="end" textLength="6.6" lengthAdjust="spacingAndGlyphs">16</text>
<text x="281.20" y="348.80" font-size="7.4" textLength="39.3" lengthAdjust="spacingAndGlyphs">before BMT</text>
<text x="336.18" y="349.00" font-size="6.6" text-anchor="middle" textLength="6.6" lengthAdjust="spacingAndGlyphs">43</text>
<text x="369.23" y="349.00" font-size="6.6" text-anchor="middle" textLength="6.6" lengthAdjust="spacingAndGlyphs">50</text>
<text x="402.27" y="349.00" font-size="6.6" text-anchor="middle" textLength="6.6" lengthAdjust="spacingAndGlyphs">57</text>
<text x="435.33" y="349.00" font-size="6.6" text-anchor="middle" textLength="6.6" lengthAdjust="spacingAndGlyphs">64</text>
<text x="468.38" y="349.00" font-size="6.6" text-anchor="middle" textLength="6.6" lengthAdjust="spacingAndGlyphs">71</text>
<text x="501.43" y="349.00" font-size="6.6" text-anchor="middle" textLength="6.6" lengthAdjust="spacingAndGlyphs">78</text>
<text x="395.00" y="360.60" font-size="7.0" font-weight="bold" textLength="14.4" lengthAdjust="spacingAndGlyphs">Days</text>
<text x="364.60" y="194.60" font-size="6.8" font-weight="bold" textLength="44.8" lengthAdjust="spacingAndGlyphs">% CD4<tspan font-size="75%">+</tspan>CD25<tspan font-size="75%">+</tspan></text>
<text x="272.20" y="263.00" font-size="7.0" text-anchor="middle" font-weight="bold" textLength="46.0" lengthAdjust="spacingAndGlyphs" transform="rotate(-90 272.20 263.00)">%CD4+CD25+</text>
<line x1="303.12" y1="298.80" x2="303.12" y2="294.60" stroke="#444" stroke-width="1.0"/>
<line x1="300.93" y1="294.60" x2="305.32" y2="294.60" stroke="#444" stroke-width="1.1"/>
<line x1="336.18" y1="225.50" x2="336.18" y2="212.60" stroke="#444" stroke-width="1.0"/>
<line x1="333.98" y1="212.60" x2="338.38" y2="212.60" stroke="#444" stroke-width="1.1"/>
<line x1="369.23" y1="303.60" x2="369.23" y2="310.80" stroke="#444" stroke-width="1.0"/>
<line x1="367.03" y1="310.80" x2="371.43" y2="310.80" stroke="#444" stroke-width="1.1"/>
<polyline points="303.12,302.30 336.18,295.00 369.23,300.40 402.27,296.40 435.33,298.00 468.38,295.60 501.43,313.60" fill="none" stroke="#141414" stroke-width="1.15" stroke-linejoin="round"/>
<rect x="300.52" y="299.65" width="5.2" height="5.3" fill="#141414"/>
<rect x="333.57" y="292.35" width="5.2" height="5.3" fill="#141414"/>
<rect x="366.62" y="297.75" width="5.2" height="5.3" fill="#141414"/>
<rect x="399.67" y="293.75" width="5.2" height="5.3" fill="#141414"/>
<rect x="432.73" y="295.35" width="5.2" height="5.3" fill="#141414"/>
<rect x="465.77" y="292.95" width="5.2" height="5.3" fill="#141414"/>
<rect x="498.82" y="310.95" width="5.2" height="5.3" fill="#141414"/>
<polyline points="303.12,300.80 336.18,291.50 369.23,303.60 402.27,302.30 435.33,305.00 468.38,295.60 501.43,311.70" fill="none" stroke="#141414" stroke-width="1.15" stroke-linejoin="round"/>
<path d="M303.12 298.27L305.73 302.87L300.52 302.87Z" fill="#141414" stroke="#141414" stroke-width="0.9" stroke-linejoin="round"/>
<path d="M336.18 288.97L338.78 293.57L333.57 293.57Z" fill="#141414" stroke="#141414" stroke-width="0.9" stroke-linejoin="round"/>
<path d="M369.23 301.07L371.83 305.67L366.62 305.67Z" fill="#141414" stroke="#141414" stroke-width="0.9" stroke-linejoin="round"/>
<path d="M402.27 299.77L404.88 304.37L399.67 304.37Z" fill="#141414" stroke="#141414" stroke-width="0.9" stroke-linejoin="round"/>
<path d="M435.33 302.47L437.93 307.07L432.73 307.07Z" fill="#141414" stroke="#141414" stroke-width="0.9" stroke-linejoin="round"/>
<path d="M468.38 293.07L470.98 297.67L465.77 297.67Z" fill="#141414" stroke="#141414" stroke-width="0.9" stroke-linejoin="round"/>
<path d="M501.43 309.17L504.03 313.77L498.82 313.77Z" fill="#141414" stroke="#141414" stroke-width="0.9" stroke-linejoin="round"/>
<polyline points="303.12,298.80 336.18,225.50 369.23,315.80 402.27,330.60 435.33,329.00 468.38,326.00 501.43,323.90" fill="none" stroke="#141414" stroke-width="1.15" stroke-linejoin="round"/>
<path d="M303.12 295.90L306.02 298.80L303.12 301.70L300.23 298.80Z" fill="#141414"/>
<path d="M336.18 222.60L339.07 225.50L336.18 228.40L333.28 225.50Z" fill="#141414"/>
<path d="M369.23 312.90L372.12 315.80L369.23 318.70L366.33 315.80Z" fill="#141414"/>
<path d="M402.27 327.70L405.17 330.60L402.27 333.50L399.38 330.60Z" fill="#141414"/>
<path d="M435.33 326.10L438.23 329.00L435.33 331.90L432.43 329.00Z" fill="#141414"/>
<path d="M468.38 323.10L471.27 326.00L468.38 328.90L465.48 326.00Z" fill="#141414"/>
<path d="M501.43 321.00L504.32 323.90L501.43 326.80L498.53 323.90Z" fill="#141414"/>
</svg>
</body></html>
